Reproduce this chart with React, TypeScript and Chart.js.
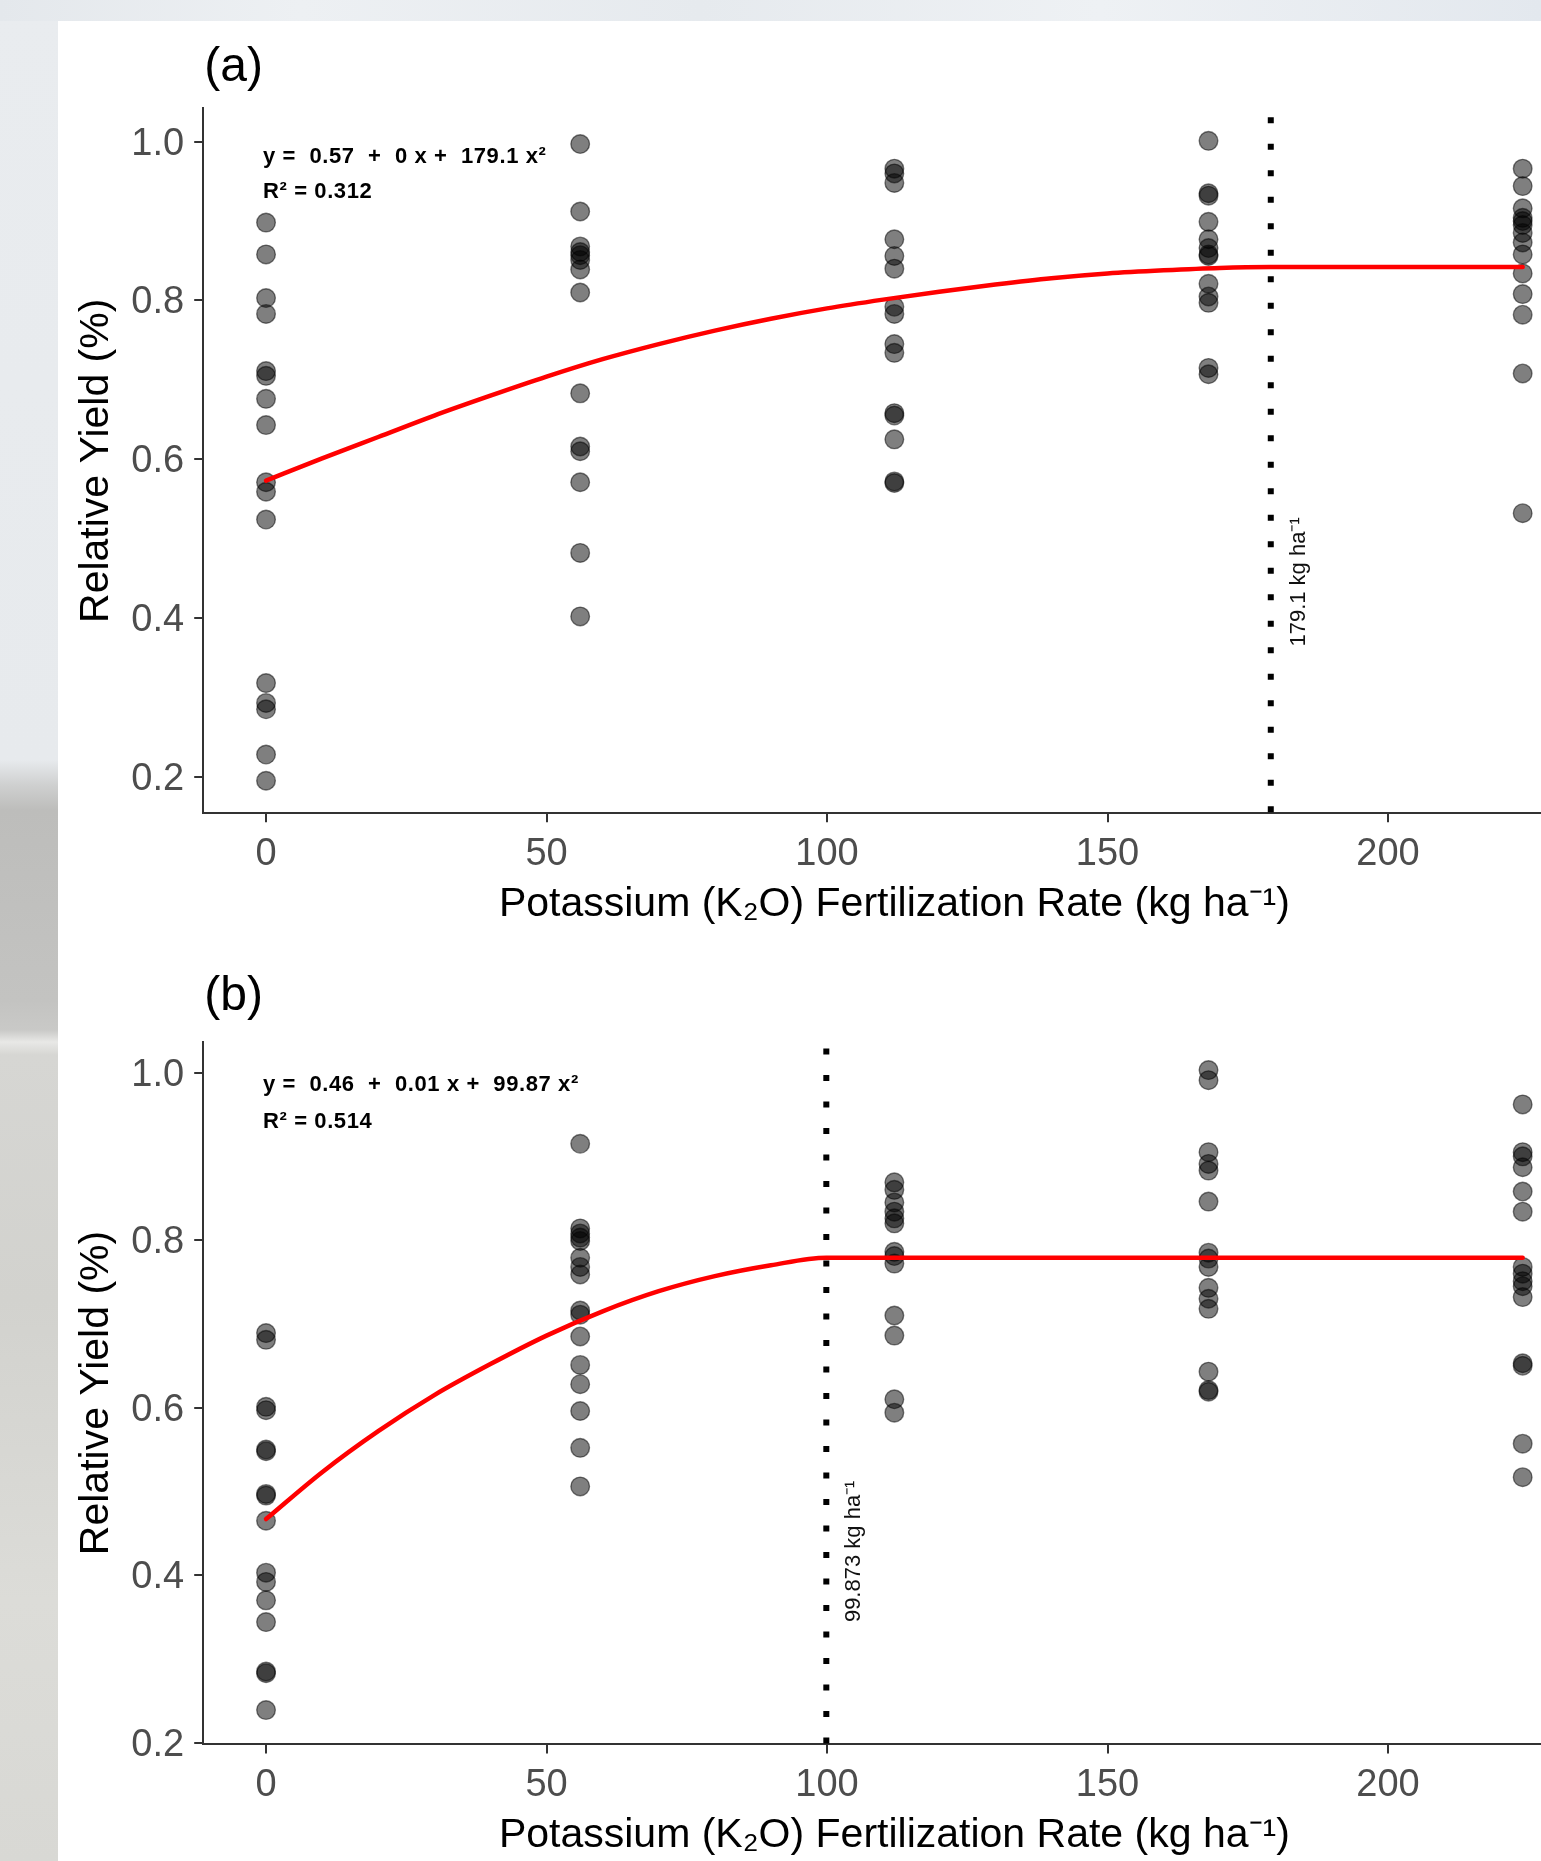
import React, { useEffect, useRef } from 'react';
import { Chart, registerables } from 'chart.js';

Chart.register(...registerables);

const FONT = "'Liberation Sans', Arial, Helvetica, sans-serif";

// ---------- data ----------
const rates = [0, 56, 112, 168, 224];
const xTicks = [0, 50, 100, 150, 200];
const yTicks = [0.2, 0.4, 0.6, 0.8, 1.0];

// Panel (a)
const a0 = [0.898, 0.858, 0.803, 0.783, 0.711, 0.705, 0.676, 0.643, 0.571, 0.559, 0.524, 0.318, 0.293, 0.285, 0.228, 0.195];
const a56 = [0.997, 0.912, 0.868, 0.861, 0.857, 0.851, 0.839, 0.81, 0.683, 0.616, 0.61, 0.571, 0.482, 0.402];
const a112 = [0.966, 0.96, 0.948, 0.877, 0.856, 0.84, 0.792, 0.783, 0.745, 0.734, 0.658, 0.655, 0.625, 0.572, 0.57];
const a168 = [1.001, 0.935, 0.932, 0.899, 0.877, 0.866, 0.858, 0.856, 0.821, 0.805, 0.797, 0.715, 0.707];
const a224 = [0.966, 0.944, 0.916, 0.904, 0.9, 0.895, 0.885, 0.873, 0.858, 0.834, 0.808, 0.782, 0.708, 0.532];
const curveAX = [0, 10, 20, 30, 40, 50, 60, 70, 80, 90, 100, 110, 120, 130, 140, 150, 160, 170, 179.1, 224];
const curveAY = [0.573, 0.601, 0.628, 0.655, 0.68, 0.704, 0.726, 0.745, 0.762, 0.777, 0.79, 0.801, 0.811, 0.82, 0.828, 0.834, 0.838, 0.841, 0.842, 0.842];
const optimumA = 179.1;
const optimumLabelA = '179.1 kg ha\u207B\u00B9';
const equationA = 'y =  0.57  +  0 x +  179.1 x\u00B2';
const r2A = 'R\u00B2 = 0.312';

// Panel (b)
const b0 = [0.689, 0.681, 0.601, 0.597, 0.55, 0.548, 0.497, 0.495, 0.465, 0.403, 0.392, 0.37, 0.344, 0.285, 0.283, 0.239];
const b56 = [0.915, 0.814, 0.808, 0.803, 0.799, 0.779, 0.768, 0.759, 0.716, 0.711, 0.685, 0.651, 0.628, 0.596, 0.552, 0.506];
const b112 = [0.869, 0.86, 0.845, 0.834, 0.826, 0.82, 0.786, 0.781, 0.772, 0.71, 0.686, 0.61, 0.594];
const b168 = [1.003, 0.991, 0.905, 0.891, 0.883, 0.846, 0.785, 0.778, 0.768, 0.743, 0.73, 0.718, 0.643, 0.621, 0.619];
const b224 = [0.962, 0.905, 0.9, 0.887, 0.858, 0.834, 0.768, 0.76, 0.751, 0.745, 0.732, 0.653, 0.65, 0.557, 0.517];
const curveBX = [0, 10, 20, 30, 40, 50, 60, 70, 80, 90, 99.873, 224];
const curveBY = [0.467, 0.523, 0.572, 0.615, 0.652, 0.686, 0.715, 0.739, 0.757, 0.77, 0.779, 0.779];
const optimumB = 99.873;
const optimumLabelB = '99.873 kg ha\u207B\u00B9';
const equationB = 'y =  0.46  +  0.01 x +  99.87 x\u00B2';
const r2B = 'R\u00B2 = 0.514';

const xTitle = 'Potassium (K\u2082O) Fertilization Rate (kg ha\u207B\u00B9)';
const yTitle = 'Relative Yield (%)';

type PanelSpec = {
  title: string;
  yields: number[][];
  curveX: number[];
  curveY: number[];
  optimum: number;
  optimumLabel: string;
  labelY: number;
  equation: string;
  r2: string;
  eqY: [number, number];
  yMin: number;
  yMax: number;
  areaTop: number;
  areaBottom: number;
  height: number;
  pageTop: number;
  titleBaseline: number;
};

const CANVAS_W = 1600;
const AREA_LEFT = 145.2;
const AREA_RIGHT = 1527.5;

const panels: PanelSpec[] = [
  {
    title: '(a)',
    yields: [a0, a56, a112, a168, a224],
    curveX: curveAX,
    curveY: curveAY,
    optimum: optimumA,
    optimumLabel: optimumLabelA,
    labelY: 0.364,
    equation: equationA,
    r2: r2A,
    eqY: [0.981, 0.937],
    yMin: 0.154,
    yMax: 1.042,
    areaTop: 87.3,
    areaBottom: 792.3,
    height: 909,
    pageTop: 21,
    titleBaseline: 60,
  },
  {
    title: '(b)',
    yields: [b0, b56, b112, b168, b224],
    curveX: curveBX,
    curveY: curveBY,
    optimum: optimumB,
    optimumLabel: optimumLabelB,
    labelY: 0.344,
    equation: equationB,
    r2: r2B,
    eqY: [0.985, 0.941],
    yMin: 0.198,
    yMax: 1.037,
    areaTop: 111.6,
    areaBottom: 814.4,
    height: 931,
    pageTop: 930,
    titleBaseline: 80,
  },
];

function makeConfig(p: PanelSpec): any {
  const points = rates.flatMap((r, i) => p.yields[i].map((v) => ({ x: r, y: v })));
  const curve = p.curveX.map((cx, i) => ({ x: cx, y: p.curveY[i] }));

  const annotPlugin = {
    id: 'annot' + p.title.replace(/[()]/g, ''),
    afterDatasetsDraw(chart: any) {
      const { ctx, chartArea } = chart;
      const xs = chart.scales.x;
      const ys = chart.scales.y;
      ctx.save();
      // dotted vertical line at optimum
      const vx = xs.getPixelForValue(p.optimum);
      ctx.strokeStyle = '#000000';
      ctx.lineWidth = 6;
      ctx.lineCap = 'butt';
      ctx.setLineDash([6, 20.5]);
      ctx.lineDashOffset = 25.5;
      ctx.beginPath();
      ctx.moveTo(vx, chartArea.bottom);
      ctx.lineTo(vx, chartArea.top);
      ctx.stroke();
      ctx.setLineDash([]);

      // rotated optimum label
      ctx.save();
      ctx.translate(xs.getPixelForValue(p.optimum + 5), ys.getPixelForValue(p.labelY));
      ctx.rotate(-Math.PI / 2);
      ctx.font = `22px ${FONT}`;
      ctx.fillStyle = '#111111';
      ctx.textAlign = 'left';
      ctx.textBaseline = 'middle';
      ctx.fillText(p.optimumLabel, 0, 0);
      ctx.restore();

      // equation
      ctx.save();
      ctx.font = `bold 22px ${FONT}`;
      ctx.fillStyle = '#000000';
      ctx.textAlign = 'left';
      ctx.textBaseline = 'middle';
      try {
        (ctx as any).letterSpacing = '0.6px';
      } catch (e) {
        /* ignore */
      }
      const ex = xs.getPixelForValue(0) - 3;
      ctx.fillText(p.equation, ex, ys.getPixelForValue(p.eqY[0]));
      ctx.fillText(p.r2, ex, ys.getPixelForValue(p.eqY[1]));
      ctx.restore();

      // panel tag
      ctx.font = `48px ${FONT}`;
      ctx.fillStyle = '#000000';
      ctx.textAlign = 'left';
      ctx.textBaseline = 'alphabetic';
      ctx.fillText(p.title, chartArea.left + 1, p.titleBaseline);
      ctx.restore();
    },
  };

  const tickFont = { family: FONT, size: 38 };
  const titleFont = { family: FONT, size: 41 };

  return {
    type: 'scatter',
    data: {
      datasets: [
        {
          type: 'line',
          data: curve,
          borderColor: '#ff0000',
          borderWidth: 4.5,
          pointRadius: 0,
          fill: false,
          cubicInterpolationMode: 'monotone',
          borderCapStyle: 'round',
          borderJoinStyle: 'round',
          order: 0,
        },
        {
          type: 'scatter',
          data: points,
          pointRadius: 9.3,
          pointBorderWidth: 1.4,
          backgroundColor: 'rgba(0,0,0,0.5)',
          borderColor: 'rgba(0,0,0,0.5)',
          pointBackgroundColor: 'rgba(0,0,0,0.5)',
          pointBorderColor: 'rgba(0,0,0,0.5)',
          order: 1,
        },
      ],
    },
    options: {
      animation: false,
      responsive: false,
      devicePixelRatio: 1,
      events: [],
      layout: {
        autoPadding: false,
        padding: { left: 0, top: p.areaTop, right: CANVAS_W - AREA_RIGHT, bottom: 0 },
      },
      plugins: {
        legend: { display: false },
        tooltip: { enabled: false },
        title: { display: false },
      },
      scales: {
        x: {
          type: 'linear',
          min: -11.2,
          max: 235.2,
          afterBuildTicks: (s: any) => {
            s.ticks = xTicks.map((v) => ({ value: v }));
          },
          afterFit: (s: any) => {
            s.height = p.height - p.areaBottom;
          },
          ticks: {
            font: tickFont,
            color: '#4D4D4D',
            padding: 9,
            maxRotation: 0,
            autoSkip: false,
            callback: (v: any) => String(v),
          },
          grid: {
            display: true,
            drawOnChartArea: false,
            drawTicks: true,
            tickLength: 9,
            color: '#333333',
            lineWidth: 2,
          },
          border: { display: true, color: '#333333', width: 2 },
          title: {
            display: true,
            text: xTitle,
            color: '#000000',
            font: titleFont,
            padding: { top: 0, bottom: 1 },
          },
        },
        y: {
          type: 'linear',
          min: p.yMin,
          max: p.yMax,
          afterBuildTicks: (s: any) => {
            s.ticks = yTicks.map((v) => ({ value: v }));
          },
          afterFit: (s: any) => {
            s.width = AREA_LEFT;
          },
          ticks: {
            font: tickFont,
            color: '#4D4D4D',
            padding: 10,
            labelOffset: 2.5,
            autoSkip: false,
            callback: (v: any) => Number(v).toFixed(1),
          },
          grid: {
            display: true,
            drawOnChartArea: false,
            drawTicks: true,
            tickLength: 9,
            color: '#333333',
            lineWidth: 2,
          },
          border: { display: true, color: '#333333', width: 2 },
          title: {
            display: true,
            text: yTitle,
            color: '#000000',
            font: titleFont,
            padding: { top: 14, bottom: 0 },
          },
        },
      },
    },
    plugins: [annotPlugin],
  };
}

function Panel({ spec }: { spec: PanelSpec }) {
  const ref = useRef<HTMLCanvasElement | null>(null);
  useEffect(() => {
    if (!ref.current) return;
    const chart = new Chart(ref.current, makeConfig(spec));
    return () => chart.destroy();
  }, [spec]);
  return (
    <canvas
      ref={ref}
      width={CANVAS_W}
      height={spec.height}
      style={{
        position: 'absolute',
        left: 58,
        top: spec.pageTop,
        width: CANVAS_W,
        height: spec.height,
        display: 'block',
      }}
    />
  );
}

const leftBackground =
  'linear-gradient(to bottom, #e9ecef 0px, #e7eaed 760px, #cfd0d0 785px, #bdbdbb 810px, #c3c3c1 1000px, #c9c9c7 1030px, #e8e8e6 1042px, #d6d6d3 1055px, #d2d2ce 1300px, #dcdcd8 1600px, #d8d8d4 1861px)';
const topBackground =
  'linear-gradient(to right, #e4e8ec 0px, #edf0f3 300px, #e6eaee 700px, #eef1f4 1100px, #e3e8ee 1541px)';

export default function App() {
  return (
    <div
      style={{
        position: 'absolute',
        left: 0,
        top: 0,
        width: 1541,
        height: 1861,
        overflow: 'hidden',
        background: leftBackground,
      }}
    >
      <div style={{ position: 'absolute', left: 0, top: 0, width: 1541, height: 21, background: topBackground }} />
      <div style={{ position: 'absolute', left: 58, top: 21, width: 1483, height: 1840, background: '#ffffff' }} />
      {panels.map((p) => (
        <Panel key={p.title} spec={p} />
      ))}
    </div>
  );
}
